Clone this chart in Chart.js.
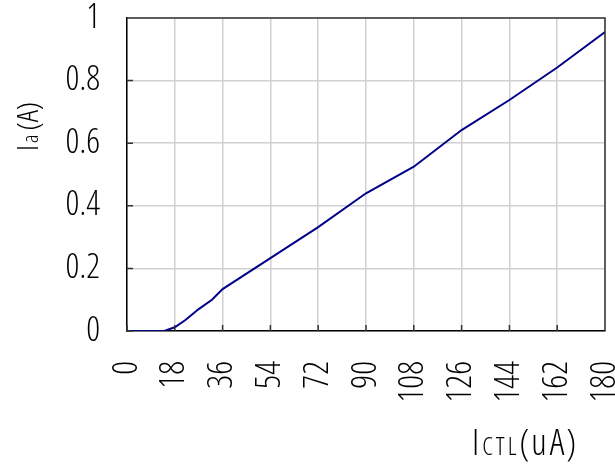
<!DOCTYPE html>
<html>
<head>
    <title>Ia vs ICTL</title>
    <script src="https://cdn.jsdelivr.net/npm/chart.js"></script>
    <style>
        html, body { margin: 0; padding: 0; background: #fff; }
        #wrap { width: 615px; height: 465px; }
    </style>
</head>
<body>
<div id="wrap"><canvas id="myChart"></canvas></div>
<script>
    // values
    var ictl = [0, 14, 18, 22, 27, 32, 36, 54, 72, 90, 108, 126, 144, 162, 180];
    var ia = [0, 0, 0.012, 0.035, 0.07, 0.1, 0.134, 0.233, 0.332, 0.44, 0.525, 0.642, 0.738, 0.842, 0.955];
    var xTicks = [0, 18, 36, 54, 72, 90, 108, 126, 144, 162, 180];
    var yTicks = [0, 0.2, 0.4, 0.6, 0.8, 1];

    var fam = "'Open Sans', sans-serif";
    var tickFont = { family: fam, size: 34, weight: '300 condensed' };

    var points = [];
    for (var i = 0; i < ictl.length; i++) {
        points.push({ x: ictl[i], y: ia[i] });
    }

    function font(size) {
        return '300 condensed ' + size + 'px ' + fam;
    }

    // axis titles, inside tick marks and the top/right frame
    var extras = {
        id: 'extras',
        afterDraw: function(chart) {
            var ctx = chart.ctx;
            var a = chart.chartArea;
            var sx = chart.scales.x, sy = chart.scales.y;
            ctx.save();
            ctx.strokeStyle = '#333';
            ctx.lineWidth = 1.5;
            ctx.beginPath();
            ctx.moveTo(a.left, a.top);
            ctx.lineTo(a.right, a.top);
            ctx.lineTo(a.right, a.bottom);
            // short ticks pointing inward
            xTicks.forEach(function(v) {
                var px = sx.getPixelForValue(v);
                ctx.moveTo(px, a.bottom);
                ctx.lineTo(px, a.bottom - 6);
            });
            yTicks.forEach(function(v) {
                var py = sy.getPixelForValue(v);
                ctx.moveTo(a.left, py);
                ctx.lineTo(a.left + 6, py);
            });
            ctx.stroke();

            ctx.fillStyle = '#000';
            ctx.textBaseline = 'alphabetic';
            ctx.textAlign = 'left';
            // x title
            var x = 472, y = 455;
            ctx.font = font(36);
            ctx.fillText('I', x, y);
            x += ctx.measureText('I').width + 3;
            ctx.font = font(25);
            ['C', 'T', 'L'].forEach(function(ch) {
                ctx.fillText(ch, x, y);
                x += ctx.measureText(ch).width + 3;
            });
            ctx.font = font(36);
            ctx.fillText('(', x, y);
            x += ctx.measureText('(').width + 2;
            ctx.fillText('u', x, y);
            x += ctx.measureText('u').width + 3;
            ctx.fillText('A', x, y);
            x += ctx.measureText('A').width + 2;
            ctx.fillText(')', x, y);

            // y title
            ctx.translate(38, 151);
            ctx.rotate(-Math.PI / 2);
            x = 0; y = 0;
            ctx.font = font(30);
            ctx.fillText('I', x, y);
            x += ctx.measureText('I').width + 2;
            ctx.font = font(22);
            ctx.fillText('a', x, y);
            x += ctx.measureText('a').width + 4;
            ctx.font = font(30);
            ctx.fillText('(A)', x, y);
            ctx.restore();
        }
    };

    var ctx = document.getElementById('myChart').getContext('2d');
    var myChart = new Chart(ctx, {
        type: 'line',
        data: {
            datasets: [{
                label: 'Ia',
                data: points,
                borderColor: '#000088',
                borderWidth: 2,
                pointRadius: 0,
                fill: false,
                tension: 0
            }]
        },
        options: {
            responsive: true,
            maintainAspectRatio: false,
            animation: false,
            layout: { padding: { top: 18, right: 10, left: 0, bottom: 0 } },
            plugins: {
                legend: { display: false },
                tooltip: { enabled: false }
            },
            scales: {
                x: {
                    type: 'linear',
                    min: 0,
                    max: 180,
                    afterBuildTicks: function(axis) {
                        axis.ticks = xTicks.map(function(v) { return { value: v }; });
                    },
                    ticks: {
                        font: tickFont,
                        color: '#000',
                        minRotation: 90,
                        maxRotation: 90,
                        padding: 30,
                        autoSkip: false,
                        callback: function(v) { return String(v); }
                    },
                    grid: { color: '#d0d0d0', lineWidth: 1.5, drawTicks: false },
                    border: { color: '#000', width: 1.5 },
                    afterFit: function(axis) {
                        axis.height = 134;
                        axis.paddingLeft = 0;
                        axis.paddingRight = 0;
                    }
                },
                y: {
                    min: 0,
                    max: 1,
                    afterBuildTicks: function(axis) {
                        axis.ticks = yTicks.map(function(v) { return { value: v }; });
                    },
                    ticks: {
                        font: tickFont,
                        color: '#000',
                        padding: 27,
                        callback: function(v) { return String(v); }
                    },
                    grid: { color: '#d0d0d0', lineWidth: 1.5, drawTicks: false },
                    border: { color: '#000', width: 1.5 },
                    afterFit: function(axis) {
                        axis.width = 127;
                        axis.paddingTop = 0;
                        axis.paddingBottom = 0;
                    }
                }
            }
        },
        plugins: [extras]
    });
</script>
</body>
</html>
